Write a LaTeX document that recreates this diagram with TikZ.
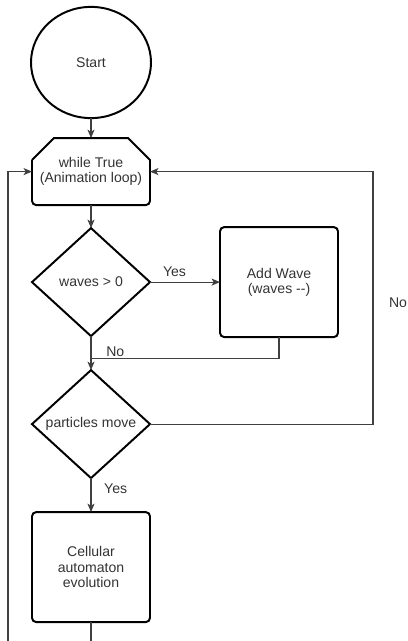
\documentclass[tikz,border=0pt]{standalone}
\usepackage{fontspec}
\setmainfont{Liberation Sans}
\usepackage{tikz}
\usetikzlibrary{shapes,arrows,arrows.meta,positioning}

\begin{document}
\begin{tikzpicture}[
    node distance=0.85cm,
    font=\fontsize{10}{11}\selectfont,
    terminal/.style={ellipse, draw, line width=1.4pt, minimum width=3cm, minimum height=2.78cm, outer sep=0pt, text=black!80},
    loopbox/.style={rectangle, minimum width=2.95cm, minimum height=1.675cm, outer sep=0pt, align=center, text=black!80},
    box/.style={rectangle, draw, rounded corners=3pt, line width=1.4pt, minimum width=2.95cm, minimum height=2.75cm, outer sep=0pt, align=center, text=black!80},
    decision/.style={diamond, draw, line width=1.4pt, minimum width=2.95cm, minimum height=2.7cm, inner sep=0pt, outer sep=0pt, text=black!80},
    arrow/.style={->, >={Stealth[length=6pt, width=5pt, inset=1.5pt]}, line width=0.8pt, draw=black!75},
    line/.style={line width=0.8pt, draw=black!75},
    edgetext/.style={text=black!80}
]
    \path[use as bounding box, clip] (0,0) rectangle (10.175,-16.025);

    \node[terminal] (start) at (2.275,-1.5625) {Start};
    \node[loopbox, below=0.5cm of start] (loop) {while True\\(Animation loop)};
    \draw[line width=1.4pt] ([yshift=-0.55cm]loop.north west) -- ([xshift=0.55cm]loop.north west)
        -- ([xshift=-0.55cm]loop.north east) -- ([yshift=-0.55cm]loop.north east)
        [rounded corners=3pt] -- (loop.south east) -- (loop.south west) -- ([yshift=-0.55cm]loop.north west);
    \node[decision, below=0.575cm of loop] (waves) {waves > 0};
    \node[box, right=1.75cm of waves] (addwave) {Add Wave\\(waves -{}-)};
    \node[decision, below=0.85cm of waves] (move) {particles move};
    \node[box, below=0.85cm of move] (cellular) {Cellular\\automaton\\evolution};

    \draw[arrow] (start) -- (loop);
    \draw[arrow] (loop) -- (waves);
    \draw[arrow] (waves) -- node[edgetext, above, pos=0.35] {Yes} (addwave);
    \draw[arrow] (waves) -- node[edgetext, right=0.25cm, pos=0.45] {No} (move);
    \draw[line] (addwave.south) |- ([yshift=0.3cm]move.north);
    \draw[arrow] (move.east) -- ++(5.575cm,0) |- node[edgetext, right=0.27cm, pos=0.24] {No} (loop.east);
    \draw[arrow] (move) -- node[edgetext, right=0.2cm, pos=0.32] {Yes} (cellular);
    \draw[arrow] (cellular.south) -- ++(0,-0.8cm) -| ([xshift=-0.6cm]loop.west) -- (loop.west);
\end{tikzpicture}
\end{document}
